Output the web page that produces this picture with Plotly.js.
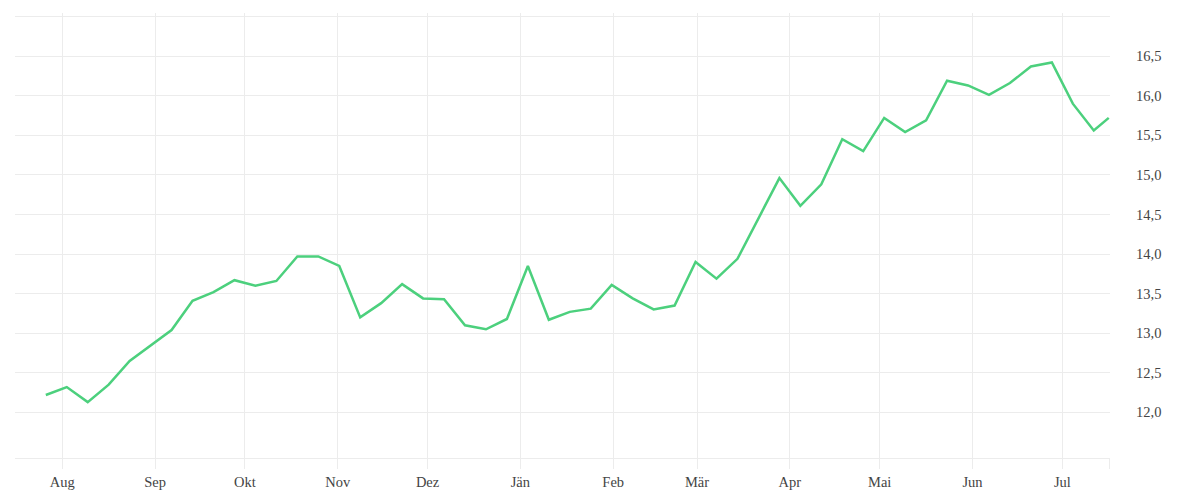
<!DOCTYPE html>
<html>
<head>
<meta charset="utf-8">
<script src="https://cdn.plot.ly/plotly-3.0.1.min.js"></script>
<style>
  html, body { margin: 0; padding: 0; background: #fff; }
  #chart { width: 1200px; height: 500px; }
</style>
</head>
<body>
<div id="chart"></div>
<script>
// weekly values
const weeks = [
  '2022-07-26 12:00', '2022-08-02 12:00', '2022-08-09 12:00', '2022-08-16 12:00',
  '2022-08-23 12:00', '2022-08-30 12:00', '2022-09-06 12:00', '2022-09-13 12:00',
  '2022-09-20 12:00', '2022-09-27 12:00', '2022-10-04 12:00', '2022-10-11 12:00',
  '2022-10-18 12:00', '2022-10-25 12:00', '2022-11-01 12:00', '2022-11-08 12:00',
  '2022-11-15 12:00', '2022-11-22 12:00', '2022-11-29 12:00', '2022-12-06 12:00',
  '2022-12-13 12:00', '2022-12-20 12:00', '2022-12-27 12:00', '2023-01-03 12:00',
  '2023-01-10 12:00', '2023-01-17 12:00', '2023-01-24 12:00', '2023-01-31 12:00',
  '2023-02-07 12:00', '2023-02-14 12:00', '2023-02-21 12:00', '2023-02-28 12:00',
  '2023-03-07 12:00', '2023-03-14 12:00', '2023-03-21 12:00', '2023-03-28 12:00',
  '2023-04-04 12:00', '2023-04-11 12:00', '2023-04-18 12:00', '2023-04-25 12:00',
  '2023-05-02 12:00', '2023-05-09 12:00', '2023-05-16 12:00', '2023-05-23 12:00',
  '2023-05-30 12:00', '2023-06-06 12:00', '2023-06-13 12:00', '2023-06-20 12:00',
  '2023-06-27 12:00', '2023-07-04 12:00', '2023-07-11 12:00', '2023-07-16 12:00'
];
const values = [
  12.22, 12.32, 12.13, 12.35, 12.65, 12.85, 13.04, 13.41,
  13.52, 13.67, 13.60, 13.66, 13.97, 13.97, 13.85, 13.20,
  13.38, 13.62, 13.44, 13.43, 13.10, 13.05, 13.18, 13.85,
  13.17, 13.27, 13.31, 13.61, 13.44, 13.30, 13.35, 13.90,
  13.69, 13.94, 14.45, 14.96, 14.61, 14.88, 15.45, 15.30,
  15.72, 15.54, 15.69, 16.19, 16.13, 16.01, 16.16, 16.37,
  16.42, 15.90, 15.56, 15.72
];

// month ticks (last one = right edge line, no label)
const monthTicks = [
  '2022-08-01', '2022-09-01', '2022-10-01', '2022-11-01', '2022-12-01', '2023-01-01',
  '2023-02-01', '2023-03-01', '2023-04-01', '2023-05-01', '2023-06-01', '2023-07-01',
  '2023-07-16 21:00'
];
const monthLabels = ['Aug', 'Sep', 'Okt', 'Nov', 'Dez', 'Jän', 'Feb', 'Mär', 'Apr', 'Mai', 'Jun', 'Jul', ''];

const yTicks = [12, 12.5, 13, 13.5, 14, 14.5, 15, 15.5, 16, 16.5, 17];
const yLabels = ['12,0', '12,5', '13,0', '13,5', '14,0', '14,5', '15,0', '15,5', '16,0', '16,5', ''];

const gridCol = '#ececec';

const data = [{
  x: weeks,
  y: values,
  type: 'scatter',
  mode: 'lines',
  line: { color: '#4cd07d', width: 2.5 },
  hoverinfo: 'x+y'
}];

const layout = {
  width: 1200,
  height: 500,
  margin: { l: 15, r: 90, t: 13, b: 42 },
  paper_bgcolor: '#fff',
  plot_bgcolor: '#fff',
  showlegend: false,
  font: { family: 'Liberation Serif, serif', size: 14.5, color: '#444' },
  xaxis: {
    type: 'date',
    range: ['2022-07-16 05:00', '2023-07-16 22:00'],
    tickmode: 'array',
    tickvals: monthTicks,
    ticktext: monthLabels,
    showgrid: true,
    gridcolor: gridCol,
    gridwidth: 1,
    ticks: 'outside',
    ticklen: 10,
    tickcolor: gridCol,
    showline: true,
    linecolor: gridCol,
    linewidth: 1,
    zeroline: false,
    ticklabelstandoff: 1
  },
  yaxis: {
    side: 'right',
    range: [11.424, 17.045],
    tickmode: 'array',
    tickvals: yTicks,
    ticktext: yLabels,
    showgrid: true,
    gridcolor: gridCol,
    gridwidth: 1,
    ticks: '',
    showline: false,
    zeroline: false,
    ticklabelstandoff: 25
  }
};

Plotly.newPlot('chart', data, layout, { displayModeBar: false, staticPlot: true });
</script>
</body>
</html>
